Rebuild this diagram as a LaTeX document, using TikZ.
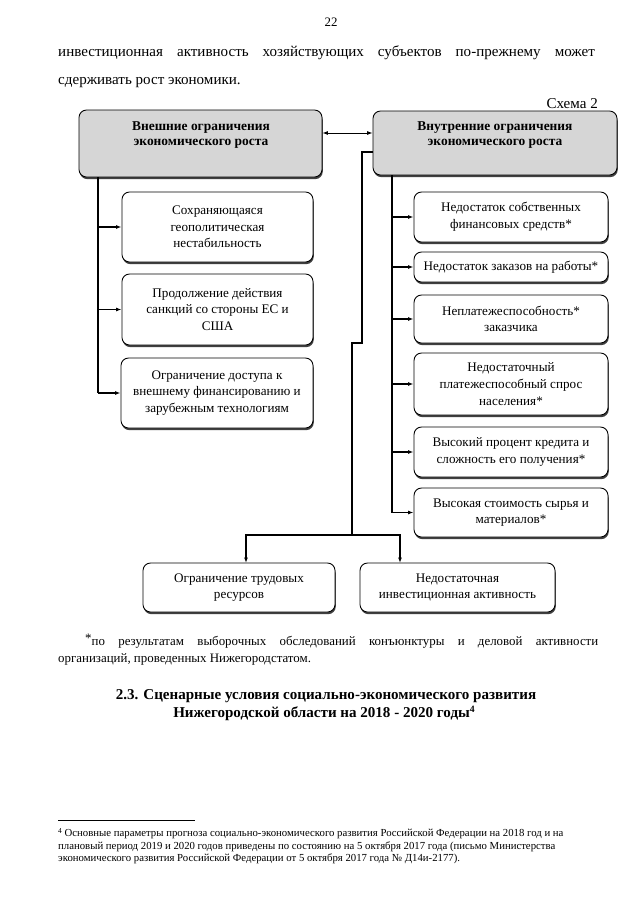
\documentclass[tikz,border=0pt]{standalone}
\usepackage{fontspec}
\setmainfont{Liberation Serif}
\usetikzlibrary{arrows.meta,shadows}
\newcommand\bx[7][box]{\node[#1, minimum width={(#5-#3)*0.9297pt}, minimum height={(#6-#4)*0.9297pt}] (#2) at ({(#3+#5)/2},{(#4+#6)/2}) {#7};}
\begin{document}
\begin{tikzpicture}[x=0.9297pt,y=-0.9297pt,
  box/.style={draw, line width=0.8pt, rounded corners=7pt, fill=white, align=center,
    font=\fontsize{12.2}{15.5}\selectfont, inner sep=0pt,
    drop shadow={shadow xshift=0.7pt, shadow yshift=-2pt, fill=black, opacity=0.75}},
  head/.style={box, fill=gray!32},
  headtxt/.style={align=center, font=\fontsize{12.5}{13.2}\selectfont\bfseries, inner sep=0pt},
  line/.style={line width=1pt, draw=black},
  arr/.style={line, -{Latex[length=5pt,width=3.6pt]}},
  dblarr/.style={line width=0.8pt, {Latex[length=5pt,width=3.6pt]}-{Latex[length=5pt,width=3.6pt]}},
  txt/.style={inner sep=0pt, anchor=base west},
  main/.style={txt, font=\fontsize{14}{16}\selectfont},
  note/.style={txt, font=\fontsize{12}{14}\selectfont},
  fn/.style={txt, font=\fontsize{10}{12}\selectfont},
  heading/.style={inner sep=0pt, anchor=base, font=\fontsize{14}{16}\selectfont\bfseries}]
\useasboundingbox (0,0) rectangle (640,905);
\fill[white] (0,0) rectangle (640,905);

% page text
\node[inner sep=0pt, anchor=base, font=\fontsize{12}{14}\selectfont] (pg) at (331,26) {22};
\node[main] (p1) at (58,56) {\makebox[499pt][s]{инвестиционная активность хозяйствующих субъектов по-прежнему может}};
\node[main] (p2) at (58,84) {сдерживать рост экономики.};
\node[inner sep=0pt, anchor=base east, font=\fontsize{14}{16}\selectfont] (sch) at (598,108) {Схема 2};

% headers
\bx[head]{hl}{79}{110}{322}{177}{}
\bx[head]{hr}{373}{111}{617}{175}{}
\node[headtxt] (hlt) at (201,135) {Внешние ограничения\\экономического роста};
\node[headtxt] (hrt) at (495,135) {Внутренние ограничения\\экономического роста};

% left boxes
\bx{l1}{122}{192}{313}{262}{Сохраняющаяся\\геополитическая\\нестабильность}
\bx{l2}{122}{274}{313}{345}{Продолжение действия\\санкций со стороны ЕС и\\США}
\bx{l3}{121}{358}{313}{428}{Ограничение доступа к\\внешнему финансированию и\\зарубежным технологиям}

% right boxes
\bx{r1}{414}{192}{608}{242}{Недостаток собственных\\финансовых средств*}
\bx{r2}{414}{252}{608}{282}{Недостаток заказов на работы*}
\bx{r3}{414}{295}{608}{343}{Неплатежеспособность*\\заказчика}
\bx{r4}{414}{353}{608}{415}{Недостаточный\\платежеспособный спрос\\населения*}
\bx{r5}{414}{427}{608}{477}{Высокий процент кредита и\\сложность его получения*}
\bx{r6}{414}{488}{608}{537}{Высокая стоимость сырья и\\материалов*}

% bottom boxes
\bx{b1}{143}{563}{335}{612}{Ограничение трудовых\\ресурсов}
\bx{b2}{360}{563}{555}{612}{Недостаточная\\инвестиционная активность}

% connectors
\coordinate (c133) at (0,133);
\coordinate (c152) at (0,152);
\draw[dblarr] (hl.east |- c133) -- (hr.west |- c133);

\coordinate (tl) at (98,177);
\draw[line] (tl) -- (tl |- l3.west);
\draw[arr] (tl |- l1.west) -- (l1.west);
\draw[arr] (tl |- l2.west) -- (l2.west);
\draw[arr] (tl |- l3.west) -- (l3.west);

\coordinate (tr) at (392,175);
\draw[line] (tr) -- (tr |- r6.west);
\draw[arr] (tr |- r1.west) -- (r1.west);
\draw[arr] (tr |- r2.west) -- (r2.west);
\draw[arr] (tr |- r3.west) -- (r3.west);
\draw[arr] (tr |- r4.west) -- (r4.west);
\draw[arr] (tr |- r5.west) -- (r5.west);
\draw[arr] (tr |- r6.west) -- (r6.west);

\coordinate (bj) at (352,535);
\coordinate (b1in) at (246,563);
\coordinate (b2in) at (400,563);
\draw[line] (hr.west |- c152) -- (362,152) -- (362,343) -- (352,343) -- (bj);
\draw[arr] (bj) -| (b1in);
\draw[arr] (bj) -| (b2in);

% notes
\node[note] (n1) at (85,645) {\makebox[477pt][s]{\raisebox{0.35ex}{*}по результатам выборочных обследований конъюнктуры и деловой активности}};
\node[note] (n2) at (58,662) {организаций, проведенных Нижегородстатом.};
\node[heading] (h1) at (326,699) {2.3. Сценарные условия социально-экономического развития};
\node[heading] (h2) at (324,717) {Нижегородской области на 2018 - 2020 годы\raisebox{0.6ex}{\fontsize{9}{9}\selectfont 4}};

% footnote
\coordinate (fr1) at (58,820);
\coordinate (fr2) at (195,820);
\draw[line width=0.6pt] (fr1) -- (fr2);
\node[fn] (f1) at (58,836) {\raisebox{0.5ex}{\fontsize{7}{7}\selectfont 4} Основные параметры прогноза социально-экономического развития Российской Федерации на 2018 год и на};
\node[fn] (f2) at (58,849) {плановый период 2019 и 2020 годов приведены по состоянию на 5 октября 2017 года (письмо Министерства};
\node[fn] (f3) at (58,861) {экономического развития Российской Федерации от 5 октября 2017 года № Д14и-2177).};
\end{tikzpicture}
\end{document}
